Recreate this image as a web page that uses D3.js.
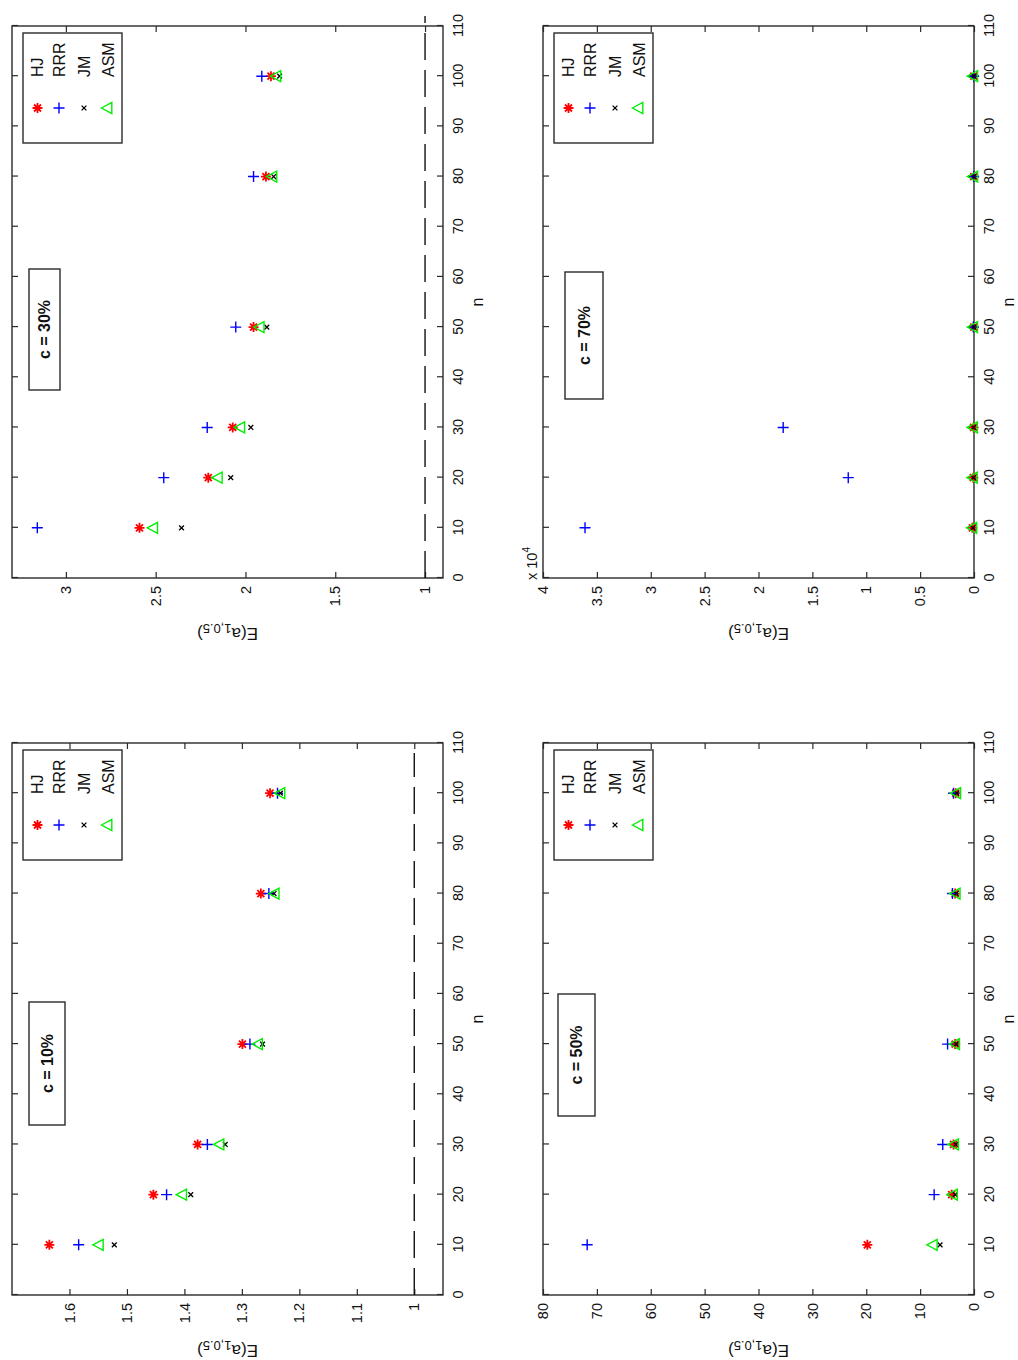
<!DOCTYPE html>
<html>
<head>
<meta charset="utf-8">
<script src="https://cdn.jsdelivr.net/npm/d3@7"></script>
<style>
  body { margin: 0; background: #fff; }
  text { font-family: "Liberation Sans", Arial, sans-serif; fill: #111; }
</style>
</head>
<body>
<svg id="fig" width="1018" height="1360"></svg>
<script>
// sample sizes and axis ticks
var nValues = [10, 20, 30, 50, 80, 100];
var nTicks = [0, 10, 20, 30, 40, 50, 60, 70, 80, 90, 100, 110];
var methodNames = ["HJ", "RRR", "JM", "ASM"];

// c = 10%
var hj10  = [1.635, 1.454, 1.377, 1.299, 1.267, 1.251];
var rrr10 = [1.584, 1.431, 1.360, 1.286, 1.253, 1.238];
var jm10  = [1.522, 1.389, 1.329, 1.264, 1.244, 1.233];
var asm10 = [1.548, 1.403, 1.338, 1.271, 1.242, 1.232];
var eTicks10 = [1, 1.1, 1.2, 1.3, 1.4, 1.5, 1.6];
var refN10 = [0, 108];

// c = 30%
var hj30  = [2.590, 2.207, 2.071, 1.955, 1.886, 1.858];
var rrr30 = [3.159, 2.455, 2.213, 2.054, 1.955, 1.909];
var jm30  = [2.356, 2.082, 1.970, 1.881, 1.843, 1.810];
var asm30 = [2.511, 2.151, 2.026, 1.918, 1.847, 1.825];
var eTicks30 = [1, 1.5, 2, 2.5, 3];
var refN30 = [0, 112];

// c = 50%
var hj50  = [19.8, 4.15, 3.8, 3.5, 3.5, 3.4];
var rrr50 = [71.8, 7.4, 5.8, 4.9, 4.0, 3.8];
var jm50  = [6.3, 3.5, 3.4, 3.3, 3.3, 3.2];
var asm50 = [7.55, 3.8, 3.6, 3.4, 3.3, 3.2];
var eTicks50 = [0, 10, 20, 30, 40, 50, 60, 70, 80];

// c = 70%
var hj70  = [150, 60, 40, 25, 20, 18];
var rrr70 = [36100, 11670, 17710, 60, 30, 25];
var jm70  = [90, 45, 35, 22, 18, 16];
var asm70 = [110, 50, 38, 24, 19, 17];
var eTicks70 = [0, 5000, 10000, 15000, 20000, 25000, 30000, 35000, 40000];

var refValue = 1;

// layout (figure drawn upright, then turned a quarter to the left)
var FIG_W = 1360, PW = 552, PH = 431, TICK = 6;
var lineColor = "#2a2a2a";

var panels = [
  { label: "c = 10%", left: 65,  top: 12,  series: [hj10, rrr10, jm10, asm10], eDomain: [0.95, 1.7], eTicks: eTicks10, ref: refN10, note: [170, 17, 123, 36] },
  { label: "c = 30%", left: 782, top: 12,  series: [hj30, rrr30, jm30, asm30], eDomain: [0.9, 3.3],  eTicks: eTicks30, ref: refN30, note: [188, 17, 121, 31] },
  { label: "c = 50%", left: 65,  top: 543, series: [hj50, rrr50, jm50, asm50], eDomain: [0, 80],     eTicks: eTicks50, ref: null,   note: [179, 15, 122, 37] },
  { label: "c = 70%", left: 782, top: 543, series: [hj70, rrr70, jm70, asm70], eDomain: [0, 40000],  eTicks: eTicks70, ref: null,   note: [179, 22, 127, 38], exponent: 4 }
];

var markers = [
  { color: "#ff0000", width: 1.8, path: function () { var r = 5, d = 3.5; return "M" + (-r) + ",0H" + r + "M0," + (-r) + "V" + r + "M" + (-d) + "," + (-d) + "L" + d + "," + d + "M" + (-d) + "," + d + "L" + d + "," + (-d); } },
  { color: "#0000ff", width: 1.4, path: function () { var r = 5.5; return "M" + (-r) + ",0H" + r + "M0," + (-r) + "V" + r; } },
  { color: "#000000", width: 1.3, path: function () { var r = 2.4; return "M" + (-r) + "," + (-r) + "L" + r + "," + r + "M" + (-r) + "," + r + "L" + r + "," + (-r); } },
  { color: "#00ee00", width: 1.4, path: function () { return "M0,-6.5L5.5,3.8L-5.5,3.8Z"; } }
];

var svg = d3.select("#fig");
var root = svg.append("g").attr("transform", "translate(0," + FIG_W + ") rotate(-90)");

function styleAxis(sel) {
  sel.select(".domain").remove();
  sel.selectAll(".tick line").attr("stroke", lineColor).attr("stroke-width", 1.2);
  sel.selectAll("text").style("font-size", "14.5px").attr("fill", "#111");
  sel.attr("font-family", null).attr("font-size", null);
}

function drawPanel(cfg) {
  var g = root.append("g").attr("transform", "translate(" + cfg.left + "," + cfg.top + ")");
  var x = d3.scaleLinear().domain([0, 110]).range([0, PW]);
  var y = d3.scaleLinear().domain(cfg.eDomain).range([PH, 0]);
  var div = cfg.exponent ? Math.pow(10, cfg.exponent) : 1;
  var fmt = function (d) { return String(+(d / div).toFixed(3)); };

  g.append("g").attr("transform", "translate(0," + PH + ")")
    .call(d3.axisBottom(x).tickValues(nTicks).tickSizeInner(-TICK).tickSizeOuter(0).tickPadding(10))
    .call(styleAxis);
  g.append("g")
    .call(d3.axisTop(x).tickValues(nTicks).tickSizeInner(-TICK).tickSizeOuter(0).tickFormat(""))
    .call(styleAxis);
  g.append("g")
    .call(d3.axisLeft(y).tickValues(cfg.eTicks).tickSizeInner(-TICK).tickSizeOuter(0).tickPadding(8).tickFormat(fmt))
    .call(styleAxis);
  g.append("g").attr("transform", "translate(" + PW + ",0)")
    .call(d3.axisRight(y).tickValues(cfg.eTicks).tickSizeInner(-TICK).tickSizeOuter(0).tickFormat(""))
    .call(styleAxis);

  g.append("rect").attr("width", PW).attr("height", PH)
    .attr("fill", "none").attr("stroke", lineColor).attr("stroke-width", 1.4);

  // reference line E = 1
  if (cfg.ref) {
    g.append("line")
      .attr("x1", x(cfg.ref[0])).attr("x2", x(cfg.ref[1]))
      .attr("y1", y(refValue)).attr("y2", y(refValue))
      .attr("stroke", "#111").attr("stroke-width", 1.4)
      .attr("stroke-dasharray", "27,10");
  }

  // points
  cfg.series.forEach(function (vals, i) {
    var m = markers[i];
    g.append("g").selectAll("path")
      .data(vals.map(function (v, k) { return [nValues[k], v]; }))
      .join("path")
      .attr("transform", function (d) { return "translate(" + x(d[0]) + "," + y(d[1]) + ")"; })
      .attr("d", m.path())
      .attr("fill", "none")
      .attr("stroke", m.color)
      .attr("stroke-width", m.width);
  });

  // legend
  var lg = g.append("g").attr("transform", "translate(435,11)");
  lg.append("rect").attr("width", 110).attr("height", 99)
    .attr("fill", "#fff").attr("stroke", lineColor).attr("stroke-width", 1.4);
  var rows = [14.5, 36, 61, 85];
  methodNames.forEach(function (name, i) {
    var m = markers[i];
    lg.append("path").attr("transform", "translate(35," + rows[i] + ")")
      .attr("d", m.path()).attr("fill", "none")
      .attr("stroke", m.color).attr("stroke-width", m.width);
    lg.append("text").attr("x", 66).attr("y", rows[i]).attr("dy", "0.36em")
      .style("font-size", "16px").text(name);
  });

  // annotation box
  var nb = cfg.note;
  g.append("rect").attr("x", nb[0]).attr("y", nb[1]).attr("width", nb[2]).attr("height", nb[3])
    .attr("fill", "#fff").attr("stroke", lineColor).attr("stroke-width", 1.4);
  g.append("text").attr("x", nb[0] + nb[2] / 2).attr("y", nb[1] + nb[3] / 2).attr("dy", "0.36em")
    .attr("text-anchor", "middle").style("font-size", "16px").style("font-weight", "bold")
    .text(cfg.label);

  // axis labels
  g.append("text").attr("x", PW / 2).attr("y", PH + 40).attr("text-anchor", "middle")
    .style("font-size", "16px").text("n");
  var yl = g.append("text")
    .attr("transform", "translate(-50," + (PH / 2) + ") rotate(-90)")
    .attr("text-anchor", "middle").style("font-size", "17px");
  yl.append("tspan").text("E(a");
  yl.append("tspan").attr("dy", 4).style("font-size", "13px").text("1,0.5");
  yl.append("tspan").attr("dy", -4).text(")");

  if (cfg.exponent) {
    var ex = g.append("text").attr("x", -2).attr("y", -6).style("font-size", "14.5px");
    ex.append("tspan").text("x 10");
    ex.append("tspan").attr("dy", -7).style("font-size", "10px").text(cfg.exponent);
  }
}

panels.forEach(drawPanel);
</script>
</body>
</html>
